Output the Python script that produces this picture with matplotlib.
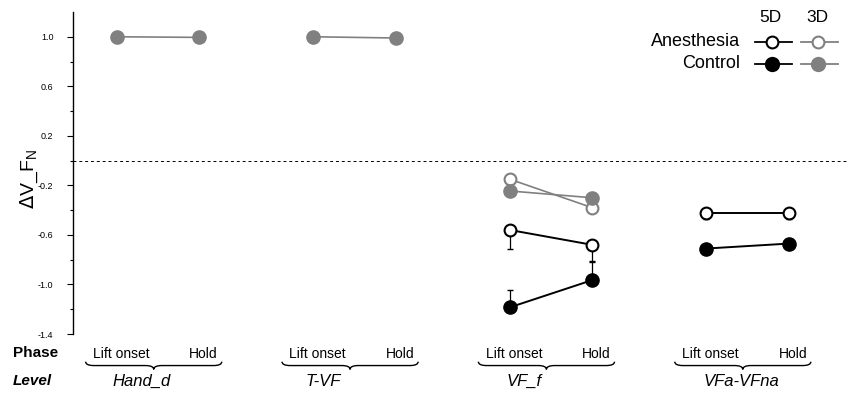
import matplotlib.pyplot as plt
import numpy as np
from matplotlib.path import Path
from matplotlib.patches import PathPatch
import matplotlib.transforms as mtransforms

plt.rcParams['font.family'] = ['Liberation Sans', 'DejaVu Sans']

levels = ['Hand_d', 'T-VF', 'VF_f', 'VFa-VFna']
phases = ['Lift onset', 'Hold']

# values per level: [lift onset, hold], nan = not shown
ctrl_3d = [[1.0, 0.995], [1.0, 0.99], [-0.245, -0.30], [np.nan, np.nan]]
anes_3d = [[np.nan, np.nan], [np.nan, np.nan], [-0.15, -0.38], [np.nan, np.nan]]
anes_5d = [[np.nan, np.nan], [np.nan, np.nan], [-0.56, -0.68], [-0.42, -0.42]]
ctrl_5d = [[np.nan, np.nan], [np.nan, np.nan], [-1.185, -0.965], [-0.71, -0.67]]
# error bars (anesthesia drawn down, control drawn up)
anes_5d_err = [[0, 0], [0, 0], [0.155, 0.13], [0.05, 0.05]]
ctrl_5d_err = [[0, 0], [0, 0], [0.14, 0.15], [0, 0]]

gray = '#808080'
group_gap = 2.38
label_dx = [-0.15, -0.33, -0.27, -0.02]  # level label offset from brace middle

fig = plt.figure(figsize=(8.5, 3.99), dpi=100)
ax = fig.add_axes([73 / 850, 1 - 334 / 399, (848 - 73) / 850, 322 / 399])

for i, lev in enumerate(levels):
    xs = np.array([0, 1]) + i * group_gap
    # 3D anesthesia
    y = np.array(anes_3d[i])
    if not np.all(np.isnan(y)):
        ax.plot(xs, y, color=gray, lw=1.2, marker='o', ms=8.5, mfc='white',
                mec=gray, mew=1.5, zorder=2)
    y = np.array(ctrl_3d[i])
    if not np.all(np.isnan(y)):
        ax.plot(xs, y, color=gray, lw=1.2, marker='o', ms=9.5, mfc=gray,
                mec=gray, zorder=3)
    y = np.array(anes_5d[i])
    if not np.all(np.isnan(y)):
        ax.errorbar(xs, y, yerr=[anes_5d_err[i], [0, 0]], fmt='none',
                    ecolor='black', elinewidth=0.9, capsize=2.5, zorder=3.5)
        ax.plot(xs, y, color='black', lw=1.4, marker='o', ms=8.5, mfc='white',
                mec='black', mew=1.5, zorder=4)
    y = np.array(ctrl_5d[i])
    if not np.all(np.isnan(y)):
        ax.errorbar(xs, y, yerr=[[0, 0], ctrl_5d_err[i]], fmt='none',
                    ecolor='black', elinewidth=0.9, capsize=2.5, zorder=3.5)
        ax.plot(xs, y, color='black', lw=1.4, marker='o', ms=9.5, mfc='black',
                mec='black', zorder=4)

ax.axhline(0, color='black', lw=0.7, ls=(0, (3, 3)), zorder=1)

ax.set_xlim(-0.533, 8.86)
ax.set_ylim(-1.4, 1.2)
ax.set_yticks(np.arange(-1.4, 1.01, 0.4))
ax.set_yticklabels(['-1.4', '-1.0', '-0.6', '-0.2', '0.2', '0.6', '1.0'])
ax.set_yticks(np.arange(-1.2, 1.01, 0.4), minor=True)
ax.tick_params(axis='y', which='major', labelsize=6.5, length=4, width=0.8, pad=10)
ax.tick_params(axis='y', which='minor', length=2.5, width=0.8)
ax.set_xticks([])
for s in ['top', 'right', 'bottom']:
    ax.spines[s].set_visible(False)
ax.spines['left'].set_linewidth(1.0)
ax.set_ylabel(r'$\Delta$V_F$_\mathregular{N}$', fontsize=14)
ax.yaxis.set_label_coords(-0.043, 0.48)

# bottom annotations: phases, braces and levels
trans = mtransforms.blended_transform_factory(ax.transData, ax.transAxes)
fig.text(13 / 850, 1 - 353 / 399, 'Phase', fontsize=11, fontweight='bold', va='center')
fig.text(13 / 850, 1 - 381 / 399, 'Level', fontsize=11, fontweight='bold',
         style='italic', va='center')


def brace(x0, x1, y, h=0.012, d=0.1, tip=0.012):
    xm = (x0 + x1) / 2
    verts = [(x0, y + h), (x0, y), (x0 + d, y),
             (xm - d, y), (xm, y), (xm, y - tip),
             (xm, y), (xm + d, y),
             (x1 - d, y), (x1, y), (x1, y + h)]
    codes = [Path.MOVETO, Path.CURVE3, Path.CURVE3,
             Path.LINETO, Path.CURVE3, Path.CURVE3,
             Path.CURVE3, Path.CURVE3,
             Path.LINETO, Path.CURVE3, Path.CURVE3]
    p = PathPatch(Path(verts, codes), transform=trans, fill=False,
                  lw=1.0, color='black', clip_on=False)
    ax.add_patch(p)


for i, lev in enumerate(levels):
    x0 = i * group_gap
    ax.text(x0 + 0.05, -0.062, phases[0], transform=trans, ha='center',
            va='center', fontsize=10)
    ax.text(x0 + 1.05, -0.062, phases[1], transform=trans, ha='center',
            va='center', fontsize=10)
    brace(x0 - 0.38, x0 + 1.27, -0.098)
    ax.text(x0 + 0.445 + label_dx[i], -0.147, lev, transform=trans, ha='center',
            va='center', fontsize=12, style='italic')

# legend drawn by hand
fig.text(770 / 850, 1 - 17 / 399, '5D', ha='center', va='center', fontsize=12.5)
fig.text(817 / 850, 1 - 17 / 399, '3D', ha='center', va='center', fontsize=12.5)
fig.text(740 / 850, 1 - 42 / 399, 'Anesthesia', ha='right', va='center', fontsize=13)
fig.text(740 / 850, 1 - 64 / 399, 'Control', ha='right', va='center', fontsize=13)
for yy, filled in [(42, False), (64, True)]:
    fy = 1 - yy / 399
    for xc, col in [(772, 'black'), (818, gray)]:
        fig.add_artist(plt.Line2D([(xc - 17) / 850, (xc + 20) / 850], [fy, fy],
                                  color=col, lw=1.3))
        fig.add_artist(plt.Line2D([xc / 850], [fy], marker='o',
                                  ms=8.5 if not filled else 9.5,
                                  mfc=col if filled else 'white', mec=col,
                                  mew=1.5, ls='none'))

fig.savefig('out.png', dpi=100)
